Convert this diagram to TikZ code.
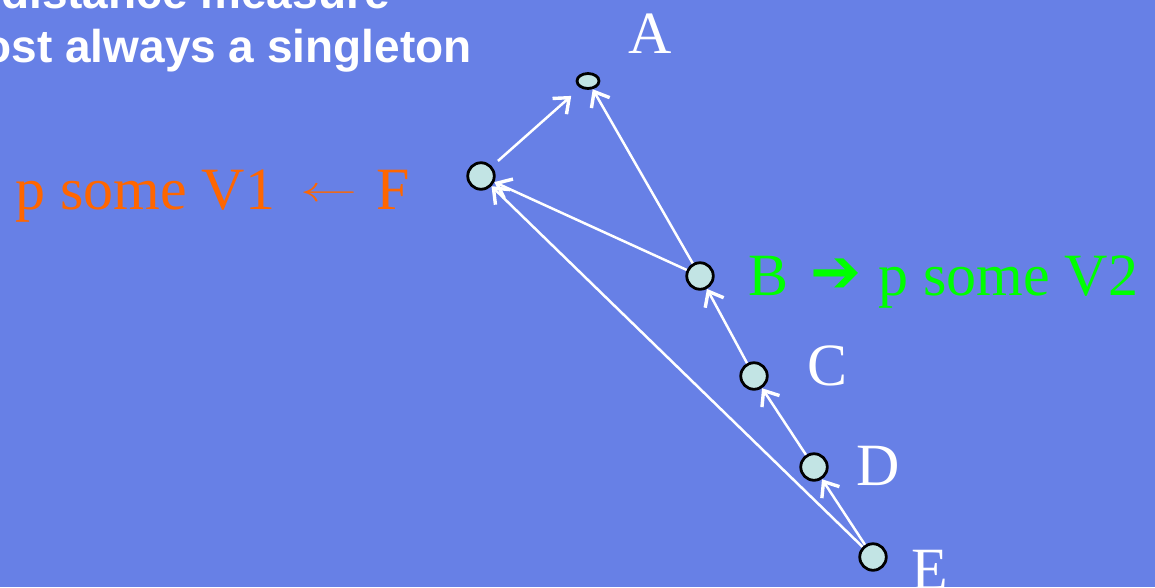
\documentclass[tikz,border=0pt]{standalone}
\usepackage{fontspec}
\usepackage{graphicx}
\setmainfont{Liberation Serif}
\newfontfamily\sansbold{Liberation Sans}[BoldFont={* Bold}]
\newfontfamily\dejavu{DejaVu Sans}
\usetikzlibrary{arrows.meta,shapes.geometric}
\definecolor{bg}{RGB}{103,128,230}
\definecolor{nodefill}{RGB}{194,228,228}
\definecolor{orangetxt}{RGB}{255,102,0}
\definecolor{greentxt}{RGB}{0,255,0}
\tikzset{
  vert/.style={circle,draw=black,line width=2.8pt,fill=nodefill,minimum size=26.5pt,inner sep=0pt},
  topvert/.style={ellipse,draw=black,line width=2.8pt,fill=nodefill,minimum width=22pt,minimum height=15pt,inner sep=0pt},
  edge/.style={draw=white,line width=2.5pt,-{Straight Barb[length=13pt,width=21pt,line width=3.4pt]}},
  lbl/.style={font=\fontsize{60}{66}\selectfont,text=white,inner sep=0pt},
  head/.style={font=\sansbold\bfseries\fontsize{46}{54}\selectfont,text=white,inner sep=0pt}
}
\begin{document}
\begin{tikzpicture}[x=1pt,y=-1pt]
\useasboundingbox (0,0) rectangle (1155,587);
\fill[bg] (0,0) rectangle (1155,587);
\node[head,anchor=base east] (h1) at (390,8) {distance measure};
\node[head,anchor=base east] (h2) at (472,62) {ost always a singleton};
\node[topvert] (A) at (588,81) {};
\node[vert] (F) at (481,176) {};
\node[vert] (B) at (700,276) {};
\node[vert] (C) at (754,376) {};
\node[vert] (D) at (814,467) {};
\node[vert] (E) at (873,557) {};
\node[lbl,anchor=base west] (lA) at (628,53) {A};
\node[lbl,anchor=base west] (lC) at (807,385) {C};
\node[lbl,anchor=base west] (lD) at (856,485) {D};
\node[lbl,anchor=base west] (lE) at (911,589) {E};
\node[lbl,anchor=base west,text=orangetxt] (lF) at (15,209) {p some V1\hspace{25pt}\raisebox{8pt}{\resizebox{57pt}{13pt}{$\leftarrow$}}\hspace{19pt}F};
\node[lbl,anchor=base west,text=greentxt] (lB) at (748,295) {B\hspace{22pt}\raisebox{3pt}{\resizebox{51pt}{!}{\dejavu ➔}}\hspace{17pt}p some V2};
\path[edge,shorten <=8pt,shorten >=12pt] (F) -- (A);
\path[edge] (B) -- (A);
\path[edge] (B) -- (F);
\path[edge] (C) -- (B);
\path[edge] (D) -- (C);
\path[edge] (E) -- (D);
\path[edge] (E) -- (F);
\end{tikzpicture}
\end{document}
